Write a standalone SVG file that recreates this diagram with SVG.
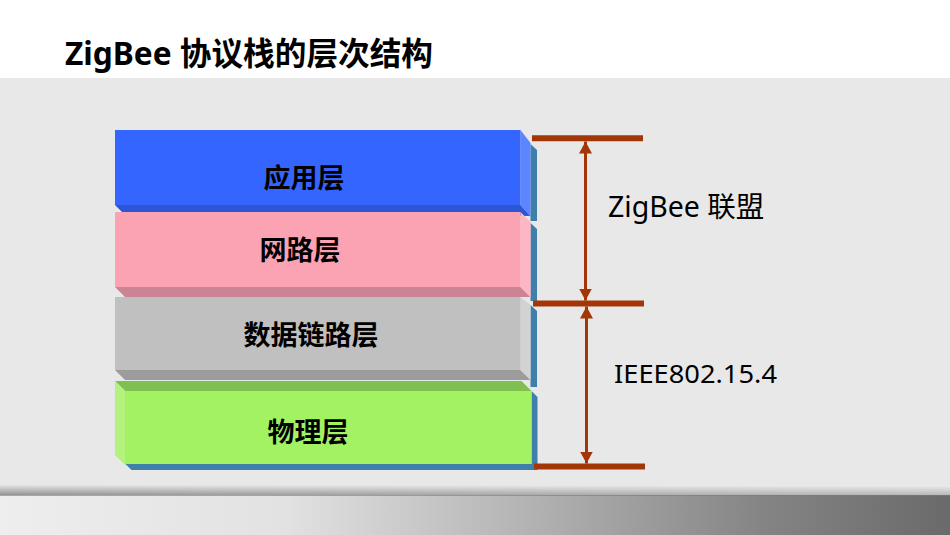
<svg xmlns="http://www.w3.org/2000/svg" width="950" height="535" viewBox="0 0 950 535">
<style>
.title{font-family:"Noto Sans","Noto Sans CJK SC",sans-serif;font-weight:bold;font-size:32px;fill:#000}
.lbl{font-family:"Noto Sans CJK SC",sans-serif;font-weight:bold;font-size:27px;fill:#000;text-anchor:middle}
.side{font-family:"Noto Sans","Noto Sans CJK SC",sans-serif;fill:#000}
.bar{stroke:#a33606;stroke-width:6;fill:none}
.shaft{stroke:#a33606;stroke-width:3;fill:none}
.steel{fill:#3f7fa9}
</style>
<defs>
<marker id="ah" viewBox="0 0 12 13" refX="12" refY="6.5" markerWidth="12" markerHeight="13" markerUnits="userSpaceOnUse" orient="auto-start-reverse">
<path d="M0,0 L12,6.5 L0,13 Z" fill="#a33606"/>
</marker>
<linearGradient id="band" x1="0" y1="0" x2="0" y2="1">
<stop offset="0" stop-color="#e4e4e4"/>
<stop offset="1" stop-color="#8c8c8c"/>
</linearGradient>
<linearGradient id="bandR" x1="0" y1="0" x2="1" y2="0">
<stop offset="0" stop-color="#fff" stop-opacity="0"/>
<stop offset="1" stop-color="#fff" stop-opacity="0.35"/>
</linearGradient>
<linearGradient id="metal" x1="0" y1="0" x2="1" y2="0">
<stop offset="0" stop-color="#eeeeee"/>
<stop offset="0.3" stop-color="#e2e2e2"/>
<stop offset="0.55" stop-color="#b4b4b4"/>
<stop offset="0.8" stop-color="#858585"/>
<stop offset="1" stop-color="#6a6a6a"/>
</linearGradient>
</defs>

<rect x="0" y="0" width="950" height="78" fill="#ffffff"/>
<rect x="0" y="78" width="950" height="408" fill="#e8e8e8"/>
<rect x="0" y="485" width="950" height="11" fill="url(#band)"/>
<rect x="0" y="485" width="950" height="11" fill="url(#bandR)"/>
<rect x="0" y="495" width="950" height="40" fill="url(#metal)"/>
<line x1="0" y1="495.5" x2="950" y2="495.5" stroke="#7a7a7a" stroke-width="1" stroke-opacity="0.6"/>

<text class="title" x="65" y="65" textLength="368" lengthAdjust="spacingAndGlyphs">ZigBee 协议栈的层次结构</text>

<g id="layer-app">
<polygon class="steel" points="530.5,144 537,150 537,221 530.5,221"/>
<polygon points="115,205 520.5,205 530.5,216 122,212" fill="#2e55d4"/>
<polygon points="520.5,130 530.5,143 530.5,217 520.5,205" fill="#5c86ff"/>
<rect x="115" y="130" width="405.5" height="75" fill="#3565ff"/>
<text class="lbl" x="304" y="188">应用层</text>
</g>

<g id="layer-net">
<polygon class="steel" points="530.5,223 537,229 537,301 530.5,301"/>
<polygon points="115,287 520.5,287 530.5,297 125,297" fill="#cc8494"/>
<polygon points="520.5,212 530.5,222 530.5,297 520.5,287" fill="#ffb6c4"/>
<rect x="115" y="212" width="405.5" height="75" fill="#fba3b3"/>
<text class="lbl" x="300" y="260">网路层</text>
</g>

<g id="layer-mac">
<polygon class="steel" points="530.5,305 537,311 537,387 530.5,387"/>
<polygon points="115,370 520.5,370 530.5,380 125,380" fill="#9c9c9c"/>
<polygon points="520.5,297 530.5,305 530.5,380 520.5,370" fill="#d2d2d2"/>
<rect x="115" y="297" width="405.5" height="73" fill="#c0c0c0"/>
<text class="lbl" x="311" y="345">数据链路层</text>
</g>

<g id="layer-phy">
<polygon class="steel" points="531.5,391 537.5,397 537.5,470 131.5,470 125.5,464 531.5,464"/>
<polygon points="115,381 521.5,381 531.5,391 125,391" fill="#80c050"/>
<polygon points="115,381 125,391 125,465 115,455" fill="#b4f27e"/>
<rect x="125" y="391" width="406.5" height="73" fill="#a3f262"/>
<text class="lbl" x="308" y="442">物理层</text>
</g>

<g id="connectors">
<line class="bar" x1="532" y1="138.3" x2="643" y2="138.3"/>
<line class="bar" x1="533" y1="303.5" x2="644" y2="303.5"/>
<line class="bar" x1="534" y1="466.5" x2="645" y2="466.5"/>
<line class="shaft" x1="585.5" y1="141.5" x2="585.5" y2="300.5" marker-start="url(#ah)" marker-end="url(#ah)"/>
<line class="shaft" x1="586.5" y1="306.5" x2="586.5" y2="463.5" marker-start="url(#ah)" marker-end="url(#ah)"/>
</g>

<g id="label-zigbee">
<text class="side" x="608" y="217" font-size="28.5">ZigBee 联盟</text>
</g>
<g id="label-ieee">
<text class="side" x="614" y="383" font-size="26" textLength="163" lengthAdjust="spacingAndGlyphs">IEEE802.15.4</text>
</g>
</svg>
